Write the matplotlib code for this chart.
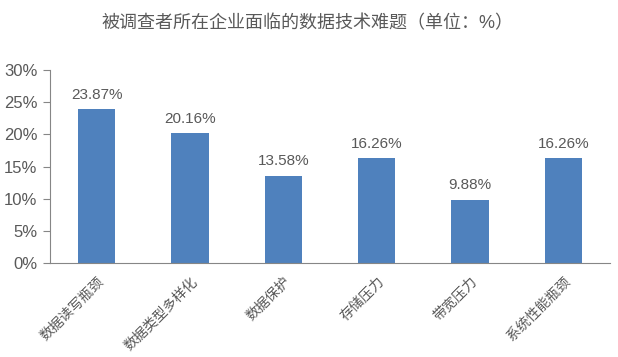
import matplotlib.pyplot as plt
from matplotlib.ticker import FuncFormatter

plt.rcParams['font.family'] = ['Liberation Sans', 'Noto Sans CJK SC', 'DejaVu Sans']

categories = ['数据读写瓶颈', '数据类型多样化', '数据保护', '存储压力', '带宽压力', '系统性能瓶颈']
values = [23.87, 20.16, 13.58, 16.26, 9.88, 16.26]
title = '被调查者所在企业面临的数据技术难题（单位：%）'

gray = '#595959'
fig = plt.figure(figsize=(6.18, 3.57), dpi=100)
ax = fig.add_axes([0.081, 0.263, 0.906, 0.541])

x = range(len(categories))
bars = ax.bar(x, values, width=0.4, color='#4F81BD')
for xi, v in zip(x, values):
    ax.text(xi, v + 1.2, f'{v:.2f}%', ha='center', va='bottom', fontsize=11, color=gray)

ax.set_xlim(-0.5, len(categories) - 0.5)
ax.set_ylim(0, 30)
ax.set_yticks(range(0, 31, 5))
ax.yaxis.set_major_formatter(FuncFormatter(lambda v, p: f'{v:.0f}%'))
ax.set_xticks(list(x))
ax.set_xticklabels(categories, rotation=45, ha='right', rotation_mode='anchor', fontsize=10, color=gray)
ax.tick_params(axis='x', length=0, pad=8)
ax.tick_params(axis='y', labelsize=12, labelcolor=gray, color='#868686', length=5, direction='out', pad=4)

for s in ['top', 'right']:
    ax.spines[s].set_visible(False)
for s in ['left', 'bottom']:
    ax.spines[s].set_color('#868686')

fig.text(0.497, 0.935, title, ha='center', va='center', fontsize=13, color=gray)

fig.savefig('out.png', dpi=100)
